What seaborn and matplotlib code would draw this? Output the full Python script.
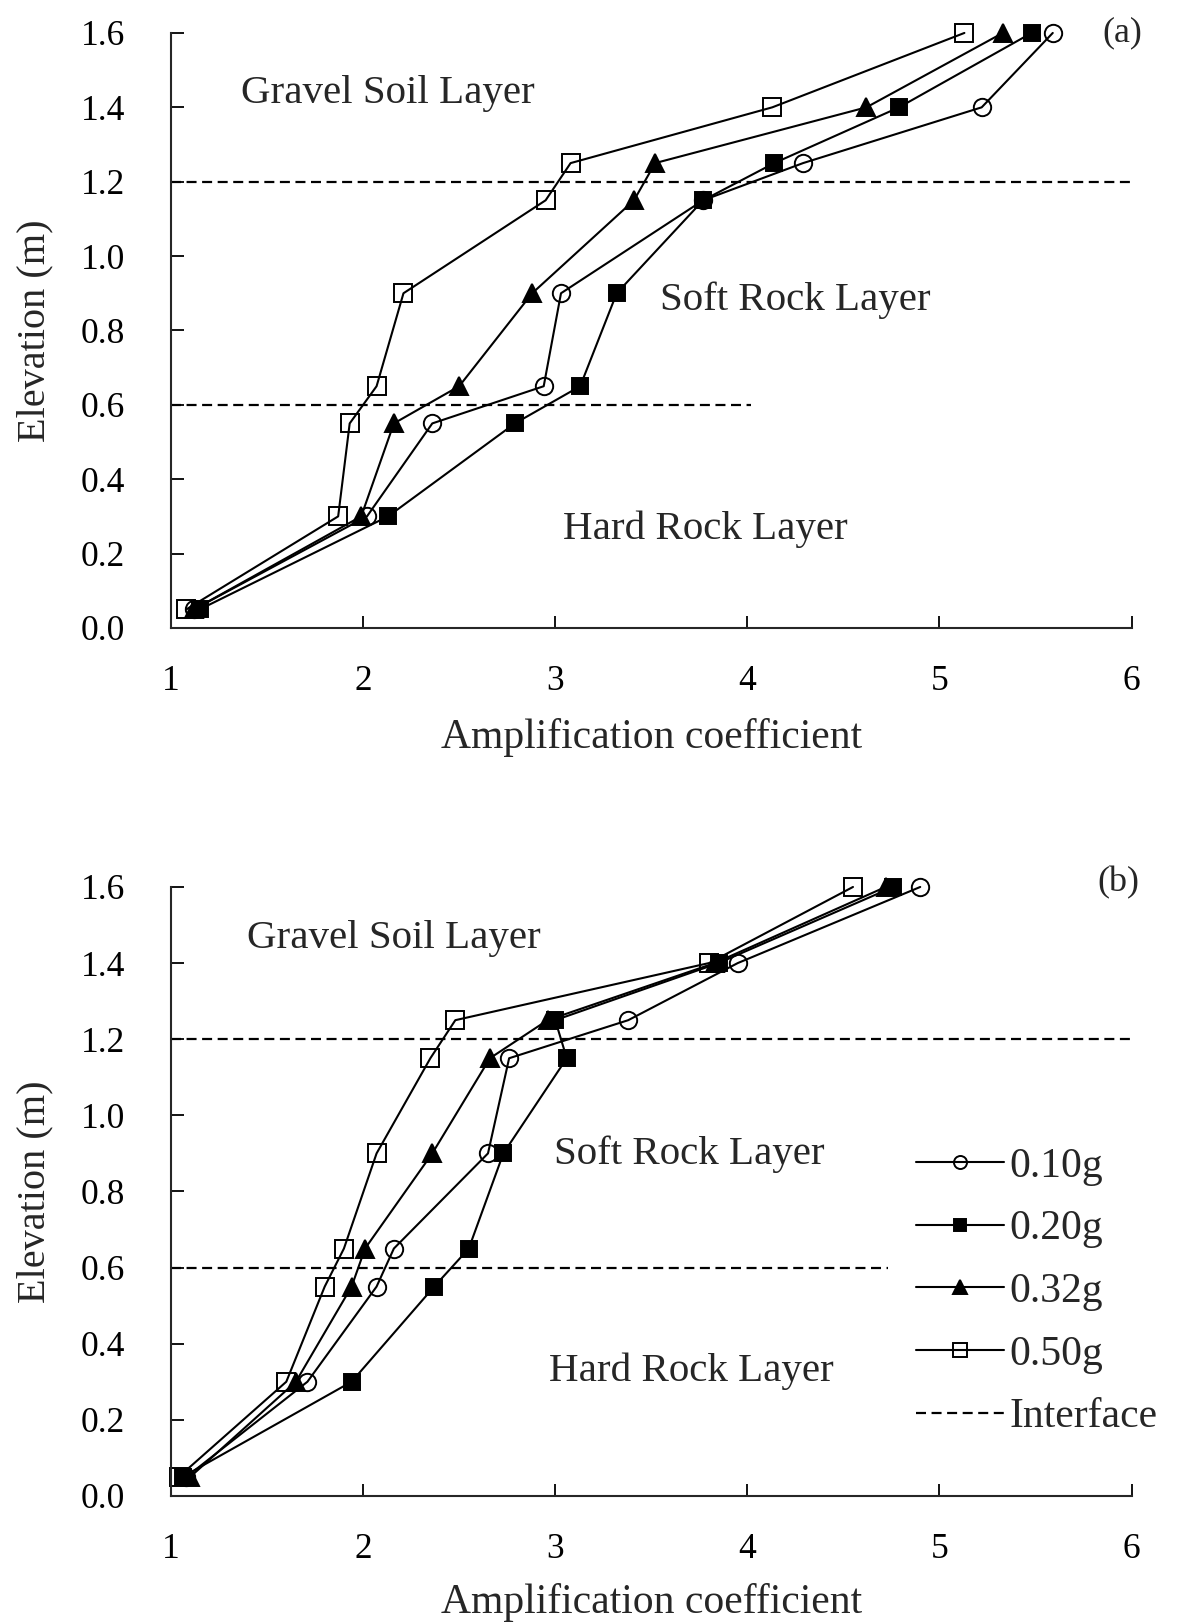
import numpy as np
import pandas as pd
import matplotlib
matplotlib.use("Agg")
import matplotlib.pyplot as plt
import seaborn as sns

# ---------------- data ----------------
elevation = [0.05, 0.30, 0.55, 0.65, 0.90, 1.15, 1.25, 1.40, 1.60]
pga_levels = ["0.10g", "0.20g", "0.32g", "0.50g"]

# panel (a)
a_010 = [1.12, 2.02, 2.36, 2.94, 3.03, 3.77, 4.29, 5.22, 5.59]
a_020 = [1.15, 2.13, 2.79, 3.13, 3.32, 3.77, 4.14, 4.79, 5.48]
a_032 = [1.12, 1.99, 2.16, 2.50, 2.88, 3.41, 3.52, 4.62, 5.33]
a_050 = [1.08, 1.87, 1.93, 2.07, 2.21, 2.95, 3.08, 4.13, 5.13]

# panel (b)
b_010 = [1.08, 1.71, 2.07, 2.16, 2.65, 2.76, 3.38, 3.95, 4.90]
b_020 = [1.06, 1.94, 2.37, 2.55, 2.73, 3.06, 3.00, 3.85, 4.76]
b_032 = [1.10, 1.65, 1.94, 2.01, 2.36, 2.66, 2.96, 3.83, 4.72]
b_050 = [1.04, 1.60, 1.80, 1.90, 2.07, 2.35, 2.48, 3.80, 4.55]

interfaces = [1.2, 0.6]
interface_xmax_a = [6.0, 4.02]
interface_xmax_b = [6.0, 4.73]

layer_names = ["Gravel Soil Layer", "Soft Rock Layer", "Hard Rock Layer"]
layer_pos_a = [(2.13, 1.436), (4.25, 0.88), (3.78, 0.265)]
layer_pos_b = [(2.16, 1.464), (3.70, 0.897), (3.71, 0.327)]

x_ticks = [1, 2, 3, 4, 5, 6]
y_ticks = [0.0, 0.2, 0.4, 0.6, 0.8, 1.0, 1.2, 1.4, 1.6]

# ---------------- style ----------------
sns.set_theme(style="ticks")
plt.rcParams["font.family"] = ["Liberation Serif", "DejaVu Serif"]
plt.rcParams["axes.linewidth"] = 1.5

styles = {
    "0.10g": dict(marker="o", markerfacecolor="none", markersize=12.5),
    "0.20g": dict(marker="s", markerfacecolor="black", markersize=12),
    "0.32g": dict(marker="^", markerfacecolor="black", markersize=12.5),
    "0.50g": dict(marker="s", markerfacecolor="none", markersize=12.5),
}
draw_order = ["0.50g", "0.10g", "0.32g", "0.20g"]

fig = plt.figure(figsize=(11.82, 16.23), dpi=100)
ax_a = fig.add_axes([0.1447, 0.6131, 0.8126, 0.3666])
ax_b = fig.add_axes([0.1447, 0.0783, 0.8126, 0.3752])


def make_df(v010, v020, v032, v050):
    rows = []
    for name, vals in zip(pga_levels, [v010, v020, v032, v050]):
        for e, v in zip(elevation, vals):
            rows.append({"amp": v, "elev": e, "pga": name})
    return pd.DataFrame(rows)


def draw_panel(ax, df, xmaxs, layer_pos, tag, tag_pos, xlabelpad):
    handles = {}
    for name in draw_order:
        sub = df[df["pga"] == name]
        sns.lineplot(data=sub, x="amp", y="elev", sort=False, estimator=None,
                     color="black", linewidth=1.5, markeredgecolor="black",
                     markeredgewidth=1.4, ax=ax, legend=False, clip_on=False,
                     **styles[name])
        handles[name] = ax.get_lines()[-1]
    for yv, xm in zip(interfaces, xmaxs):
        line, = ax.plot([1.0, xm], [yv, yv], color="black", linewidth=1.6,
                        linestyle=(0, (4.5, 2.5)))
        handles["Interface"] = line
    for txt, (x, y) in zip(layer_names, layer_pos):
        ax.text(x, y, txt, ha="center", va="center", fontsize=29.5)
    ax.text(tag_pos[0], tag_pos[1], tag, ha="center", va="center", fontsize=26)

    ax.set_xlim(1, 6)
    ax.set_ylim(0, 1.6)
    ax.set_xticks(x_ticks)
    ax.set_xticklabels([str(t) for t in x_ticks])
    ax.set_yticks(y_ticks)
    ax.set_yticklabels([f"{t:.1f}" for t in y_ticks])
    sns.despine(ax=ax)
    ax.tick_params(axis="both", direction="in", length=9, width=1.3,
                   labelsize=25.5, colors="black")
    ax.tick_params(axis="x", pad=27)
    ax.tick_params(axis="y", pad=33)
    ax.set_xlabel("Amplification coefficient", fontsize=30, labelpad=xlabelpad)
    ax.set_ylabel("Elevation (m)", fontsize=29)
    ax.yaxis.set_label_coords(-0.122, 0.5)
    ax.grid(False)
    return handles


df_a = make_df(a_010, a_020, a_032, a_050)
df_b = make_df(b_010, b_020, b_032, b_050)

draw_panel(ax_a, df_a, interface_xmax_a, layer_pos_a, "(a)", (5.95, 1.6), 14)
hb = draw_panel(ax_b, df_b, interface_xmax_b, layer_pos_b, "(b)", (5.93, 1.61), 12)

leg_names = pga_levels + ["Interface"]
leg = ax_b.legend([hb[n] for n in leg_names], leg_names,
                  loc="upper left", bbox_to_anchor=(916 / 1182, 1 - 1147 / 1623),
                  bbox_transform=fig.transFigure, frameon=False, fontsize=30,
                  handlelength=2.1, handletextpad=0.15, labelspacing=0.58,
                  borderpad=0, borderaxespad=0, markerscale=0.75)

fig.savefig("out.png", dpi=100, facecolor="white")
